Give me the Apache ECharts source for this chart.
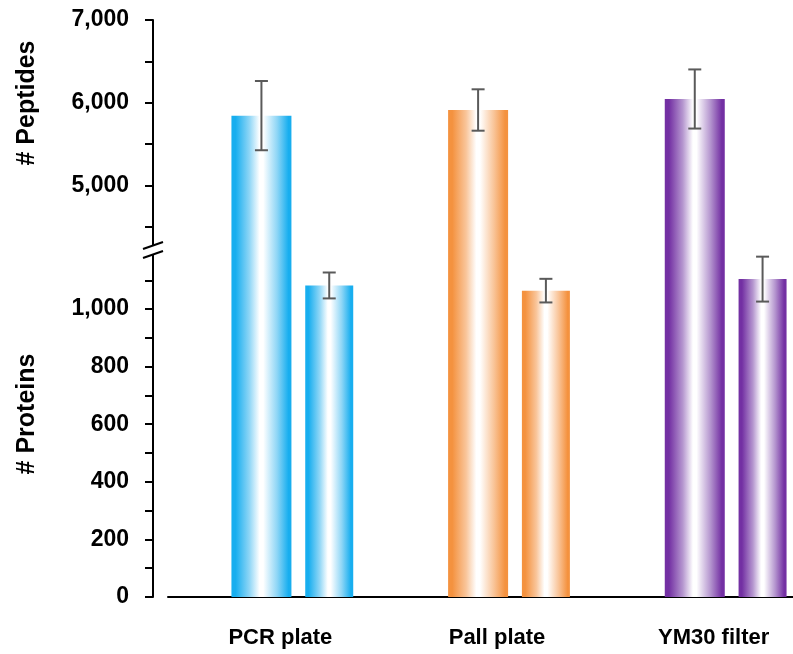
<!DOCTYPE html>
<html>
<head>
<meta charset="utf-8">
<script src="https://cdn.jsdelivr.net/npm/echarts@6/dist/echarts.min.js"></script>
<style>
html,body{margin:0;padding:0;background:#fff;}
#chart{width:793px;height:654px;}
</style>
</head>
<body>
<div id="chart"></div>
<script>
// ---- data ----
const categories = ['PCR plate', 'Pall plate', 'YM30 filter'];
const peptides = [5845, 5913, 6046];
const peptidesSD = [418, 250, 357];
const proteins = [1082, 1064, 1104];
const proteinsSD = [45, 41, 78];
const peptideTicks = [5000, 6000, 7000];
const proteinTicks = [0, 200, 400, 600, 800, 1000];

// ---- style ----
const FONT = 'Liberation Sans, Arial, Helvetica, sans-serif';
const PEP_W = 60, PRO_W = 48, GAP = 0.23, CAP = 6.5;
const ERR_COLOR = '#5a5a5a';
const palette = [
  { c: '#18AEEF', m: '#8FD6F6' },
  { c: '#F4923F', m: '#F9C59A' },
  { c: '#7330A3', m: '#B596CF' }
];
function grad(p) {
  return {
    type: 'linear', x: 0, y: 0, x2: 1, y2: 0,
    colorStops: [
      { offset: 0, color: p.c }, { offset: 0.07, color: p.c },
      { offset: 0.3, color: p.m }, { offset: 0.47, color: '#ffffff' },
      { offset: 0.53, color: '#ffffff' }, { offset: 0.76, color: p.m },
      { offset: 0.95, color: p.c }, { offset: 1, color: p.c }
    ]
  };
}
const groupW = PEP_W * (1 + GAP) + PRO_W;
const pepOff = -groupW / 2 + PEP_W / 2;
const proOff = -groupW / 2 + PEP_W * (1 + GAP) + PRO_W / 2;

function errRender(offset) {
  return function (params, api) {
    const i = api.value(0);
    const lo = api.coord([i, api.value(1)]);
    const hi = api.coord([i, api.value(2)]);
    const x = lo[0] + offset;
    const st = { stroke: ERR_COLOR, lineWidth: 2, fill: null };
    return {
      type: 'group', children: [
        { type: 'line', shape: { x1: x, y1: lo[1], x2: x, y2: hi[1] }, style: st },
        { type: 'line', shape: { x1: x - CAP, y1: lo[1], x2: x + CAP, y2: lo[1] }, style: st },
        { type: 'line', shape: { x1: x - CAP, y1: hi[1], x2: x + CAP, y2: hi[1] }, style: st }
      ]
    };
  };
}
const pepErr = peptides.map((v, i) => [i, v - peptidesSD[i], v + peptidesSD[i]]);
const proErr = proteins.map((v, i) => [i, v - proteinsSD[i], v + proteinsSD[i]]);

const tickLabelStyle = { color: '#000', fontWeight: 'bold', fontSize: 23, fontFamily: FONT };
const catLabelStyle = { color: '#000', fontWeight: 'bold', fontSize: 22, fontFamily: FONT };
const axisLineStyle = { color: '#000', width: 2 };
const tickCfg = { show: true, inside: false, length: 8, lineStyle: { color: '#000', width: 2 } };
const barColor = p => grad(palette[p.dataIndex]);

const chart = echarts.init(document.getElementById('chart'), null, { renderer: 'canvas' });
chart.setOption({
  animation: false,
  backgroundColor: '#fff',
  grid: [
    { left: 184, width: 650, top: 20, height: 207, outerBoundsMode: 'none', containLabel: false },
    { left: 184, width: 650, top: 227, height: 370, outerBoundsMode: 'none', containLabel: false },
    { left: 168, width: 660, top: 227, height: 370, outerBoundsMode: 'none', containLabel: false }
  ],
  xAxis: [
    { type: 'category', gridIndex: 0, data: categories, show: false },
    {
      type: 'category', gridIndex: 1, data: categories,
      axisLine: { show: false }, axisTick: { show: false },
      axisLabel: Object.assign({ margin: 30, padding: [0, 24, 0, 0] }, catLabelStyle)
    },
    {
      type: 'value', gridIndex: 2, min: 0, max: 1,
      axisLine: { show: true, lineStyle: axisLineStyle },
      axisTick: { show: false }, axisLabel: { show: false }, splitLine: { show: false }
    }
  ],
  yAxis: [
    {
      type: 'value', gridIndex: 0, min: 4500, max: 7000, interval: 500, offset: 31,
      axisLine: { show: true, lineStyle: axisLineStyle }, axisTick: tickCfg,
      splitLine: { show: false },
      axisLabel: Object.assign({
        margin: 24, showMinLabel: true, showMaxLabel: true,
        formatter: v => peptideTicks.includes(v) ? v.toLocaleString('en-US') : ''
      }, tickLabelStyle)
    },
    {
      type: 'value', gridIndex: 1, min: 0, max: 1285, interval: 100, offset: 31,
      axisLine: { show: true, lineStyle: axisLineStyle }, axisTick: tickCfg,
      splitLine: { show: false },
      axisLabel: Object.assign({
        margin: 24, showMinLabel: true, showMaxLabel: true,
        formatter: v => proteinTicks.includes(v) ? v.toLocaleString('en-US') : ''
      }, tickLabelStyle)
    },
    { type: 'value', gridIndex: 2, show: false, min: 0, max: 1 }
  ],
  series: [
    { type: 'bar', xAxisIndex: 0, yAxisIndex: 0, data: peptides, barWidth: PEP_W, barGap: GAP * 100 + '%', clip: true, itemStyle: { color: barColor } },
    { type: 'bar', xAxisIndex: 0, yAxisIndex: 0, data: proteins.map(() => '-'), barWidth: PRO_W, barGap: GAP * 100 + '%', clip: true, itemStyle: { color: barColor } },
    { type: 'bar', xAxisIndex: 1, yAxisIndex: 1, data: peptides, barWidth: PEP_W, barGap: GAP * 100 + '%', clip: true, itemStyle: { color: barColor } },
    { type: 'bar', xAxisIndex: 1, yAxisIndex: 1, data: proteins, barWidth: PRO_W, barGap: GAP * 100 + '%', clip: true, itemStyle: { color: barColor } },
    { type: 'custom', xAxisIndex: 0, yAxisIndex: 0, data: pepErr, renderItem: errRender(pepOff), z: 5, clip: false },
    { type: 'custom', xAxisIndex: 1, yAxisIndex: 1, data: proErr, renderItem: errRender(proOff), z: 5, clip: false }
  ],
  graphic: [
    { type: 'text', x: 27, y: 103, rotation: Math.PI / 2, z: 10,
      style: { text: '# Peptides', fill: '#000', font: 'bold 25px ' + FONT, align: 'center', verticalAlign: 'middle' } },
    { type: 'text', x: 27, y: 414, rotation: Math.PI / 2, z: 10,
      style: { text: '# Proteins', fill: '#000', font: 'bold 25px ' + FONT, align: 'center', verticalAlign: 'middle' } },
    { type: 'rect', shape: { x: 140, y: 245, width: 26, height: 9 }, style: { fill: '#fff' }, z: 100 },
    { type: 'line', shape: { x1: 143, y1: 249, x2: 163, y2: 242 }, style: { stroke: '#000', lineWidth: 2 }, z: 101 },
    { type: 'line', shape: { x1: 143, y1: 258, x2: 163, y2: 251 }, style: { stroke: '#000', lineWidth: 2 }, z: 101 }
  ]
});
</script>
</body>
</html>
